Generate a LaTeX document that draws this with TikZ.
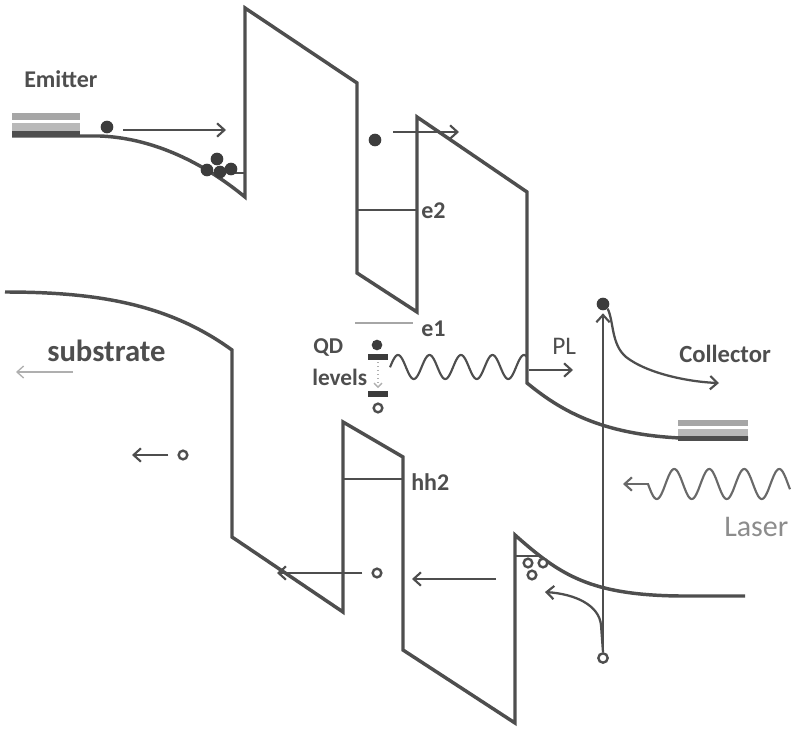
\documentclass[tikz,border=0pt]{standalone}
\usepackage{fontspec}
\setmainfont{Carlito}
\usetikzlibrary{arrows.meta}
\definecolor{ink}{RGB}{78,78,78}
\definecolor{dotc}{RGB}{60,60,60}
\definecolor{lasergray}{RGB}{140,140,140}
\definecolor{faint}{RGB}{175,175,175}
\begin{document}
\begin{tikzpicture}[x=0.75pt,y=-0.75pt,
  band/.style={ink,line width=2.6pt,line join=miter},
  lvl/.style={ink,line width=0.9pt},
  arr/.style={ink,line width=1.7pt,-{Straight Barb[length=5.5pt,width=10pt,line width=1.6pt]}},
  elec/.style={circle,fill=dotc,inner sep=0pt,minimum size=9.5pt},
  hole/.style={circle,draw=ink,line width=1.8pt,fill=white,inner sep=0pt,minimum size=6.5pt},
  lab/.style={ink,font=\bfseries\fontsize{18}{20}\selectfont,inner sep=0pt,anchor=west},
  reglab/.style={ink,font=\fontsize{19}{22}\selectfont,inner sep=0pt,anchor=west},
  wave/.style={ink,line width=1.6pt},
  qdbar/.style={dotc,line width=4.5pt},
]
\useasboundingbox (0,0) rectangle (792,728);

% contacts
\fill[gray!70] (12,113) rectangle (80,120);
\fill[gray!55] (12,123) rectangle (80,131);
\fill[ink] (12,131) rectangle (80,137);
\fill[gray!70] (678,420) rectangle (748,426);
\fill[gray!55] (678,429) rectangle (748,436);
\fill[ink] (678,436) rectangle (748,441);

% conduction band
\draw[band] (12,136) -- (100,136) .. controls (150,138) and (200,160) .. (245,197)
  -- (245,8) -- (357,83) -- (357,273) -- (417,312) -- (417,117) -- (527,192)
  -- (527,383) .. controls (560,410) and (600,434) .. (680,438) -- (748,438);

% valence band
\draw[band] (5,292) .. controls (100,292) and (170,305) .. (232,350)
  -- (232,537) -- (343,612) -- (343,422) -- (403,457) -- (403,650)
  -- (515,723) -- (515,535) .. controls (560,575) and (590,595) .. (680,596) -- (745,596);

% levels
\draw[lvl] (227,173) -- (245,173);
\draw[lvl] (357,210) -- (417,210);
\draw[gray!70,line width=1.1pt] (355,323) -- (413,323);
\draw[lvl] (343,479) -- (403,479);
\draw[lvl] (515,556) -- (540,556);

% labels
\node[lab] (emitter) at (24,79) {Emitter};
\node[lab,font=\bfseries\fontsize{23}{27}\selectfont] (substrate) at (47,351) {substrate};
\node[lab,font=\bfseries\fontsize{18.5}{21}\selectfont] (collector) at (679,354) {Collector};
\node[lab] (e2) at (421,211) {e2};
\node[lab] (e1) at (421,329) {e1};
\node[lab] (hh2) at (411,482) {hh2};
\node[lab,font=\bfseries\fontsize{17}{19}\selectfont] (qd) at (313,347) {QD};
\node[lab,font=\bfseries\fontsize{17.5}{19}\selectfont] (levels) at (312,377) {levels};
\node[reglab] (pl) at (552,346) {PL};
\node[reglab,text=lasergray,font=\fontsize{22.5}{26}\selectfont] (laser) at (724,527) {Laser};

% carriers
\node[elec] (e0) at (107,127) {};
\node[elec] (c1) at (217,159) {};
\node[elec] (c2) at (207,170) {};
\node[elec] (c3) at (220,172) {};
\node[elec] (c4) at (231,169) {};
\node[elec] (ew) at (375,140) {};
\node[elec,minimum size=8pt] (qde) at (377,345) {};
\node[hole] (qdh) at (378,408) {};
\node[hole] (hleft) at (183,455) {};
\node[hole] (hmid) at (377,573) {};
\node[hole] (t1) at (528,563) {};
\node[hole] (t2) at (532,575) {};
\node[hole] (t3) at (543,563) {};
\node[hole,minimum size=7pt] (hb) at (603,658) {};
\node[elec] (ec) at (603,304) {};

% QD bars
\draw[qdbar] (368,357) -- (388,357);
\draw[qdbar] (368,394) -- (388,394);
\draw[faint,line width=1pt,dotted,-{Straight Barb[length=3pt,width=6pt]}] (378,362) -- (378,388);

% arrows
\coordinate (a1s) at (123,130); \coordinate (a1e) at (226,130);
\draw[arr] (a1s) -- (a1e);
\coordinate (a2s) at (393,132); \coordinate (a2e) at (459,132);
\draw[arr] (a2s) -- (a2e);
\coordinate (pls) at (529,370); \coordinate (ple) at (573,370);
\draw[arr] (pls) -- (ple);
\coordinate (a7s) at (496,579); \coordinate (a7e) at (412,579);
\draw[arr] (a7s) -- (a7e);
\coordinate (a8e) at (277,573);
\draw[arr] ([xshift=-11pt]hmid.center) -- (a8e);
\coordinate (a9e) at (132,455);
\draw[arr] ([xshift=-11pt]hleft.center) -- (a9e);
\coordinate (subs) at (73,372); \coordinate (sube) at (16,372);
\draw[faint,line width=1pt,-{Straight Barb[length=5pt,width=9pt,line width=1pt]}] (subs) -- (sube);

% vertical excitation arrow
\draw[arr] (hb.north) -- ([yshift=-7pt]ec.center);
% hole relaxation arrow
\coordinate (hre) at (545,592);
\draw[arr] (hb.north) -- (601,625) .. controls (599,605) and (575,594) .. (hre);
% collector arrow
\coordinate (cole) at (719,383);
\draw[arr] (ec.south east) .. controls (614,322) and (611,344) .. (626,357)
  .. controls (648,374) and (690,382) .. (cole);

% PL wave
\draw[wave] plot[domain=390:527,samples=160] (\x,{367-12*cos(11.4286*(\x-398))});
% laser
\draw[wave,ink!85] plot[domain=648:790,samples=160] (\x,{484+15*sin(10.2857*(\x-648))});
\coordinate (las) at (649,484); \coordinate (lae) at (623,484);
\draw[arr,ink!85] (las) -- (lae);

\end{tikzpicture}
\end{document}
